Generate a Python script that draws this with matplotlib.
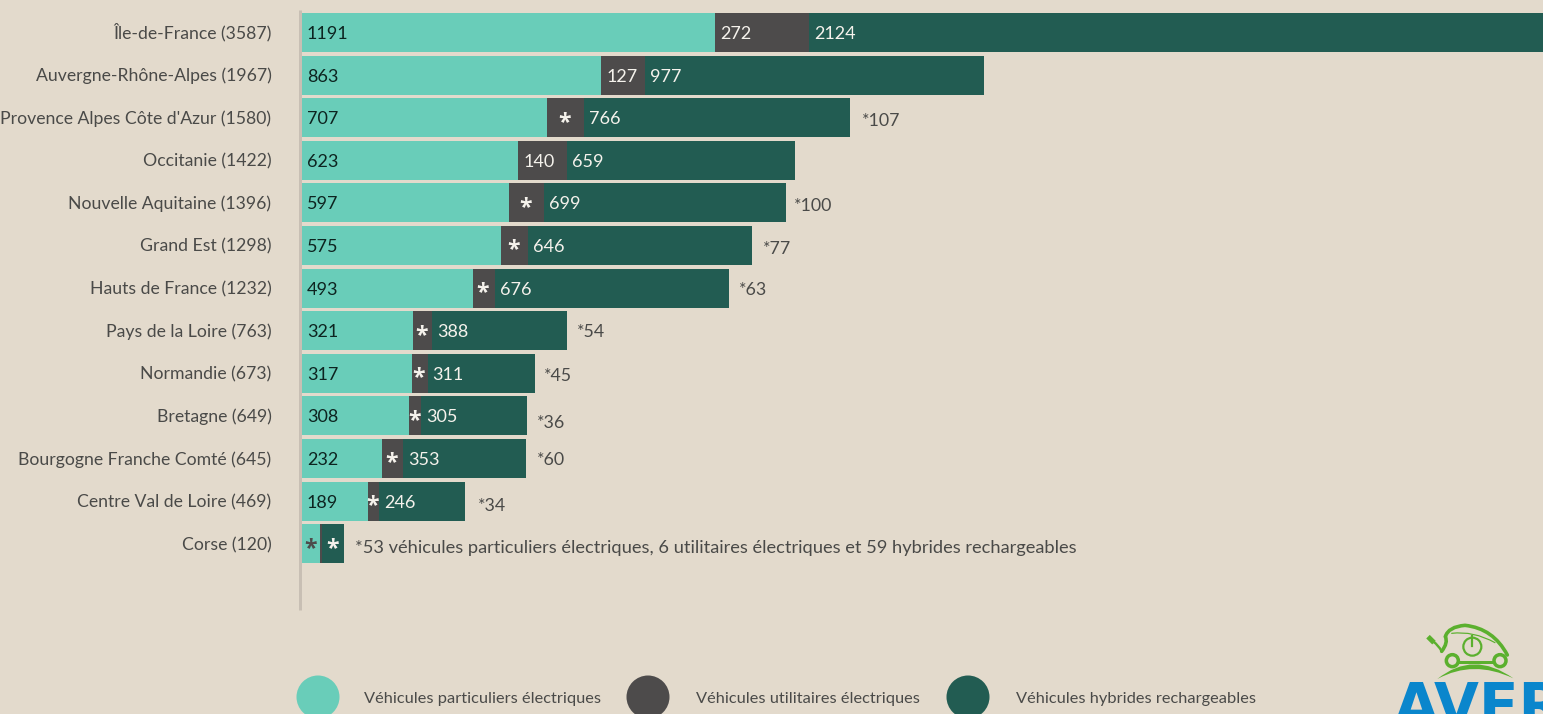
import matplotlib
matplotlib.use("Agg")
import matplotlib.pyplot as plt
from matplotlib.patches import Circle, PathPatch
from matplotlib.path import Path
from matplotlib.transforms import ScaledTranslation

regions = ["Île-de-France (3587)", "Auvergne-Rhône-Alpes (1967)", "Provence Alpes Côte d'Azur (1580)",
           "Occitanie (1422)", "Nouvelle Aquitaine (1396)", "Grand Est (1298)", "Hauts de France (1232)",
           "Pays de la Loire (763)", "Normandie (673)", "Bretagne (649)", "Bourgogne Franche Comté (645)",
           "Centre Val de Loire (469)", "Corse (120)"]
particuliers = [1191, 863, 707, 623, 597, 575, 493, 321, 317, 308, 232, 189, 53]
utilitaires = [272, 127, 107, 140, 100, 77, 63, 54, 45, 36, 60, 34, 6]
hybrides = [2124, 977, 766, 659, 699, 646, 676, 388, 311, 305, 353, 246, 62]
labels_p = ["1191", "863", "707", "623", "597", "575", "493", "321", "317", "308", "232", "189", "*"]
labels_u = ["272", "127", "*", "140", "*", "*", "*", "*", "*", "*", "*", "*", ""]
labels_h = ["2124", "977", "766", "659", "699", "646", "676", "388", "311", "305", "353", "246", "*"]
notes = ["", "", "*107", "", "*100", "*77", "*63", "*54", "*45", "*36", "*60", "*34", ""]
note_offsets = [(0, 0), (0, 0), (12, 2), (0, 0), (8, 2), (11, 2), (10, 0), (10, 0), (9, 1), (10, 6), (11, 0), (13, 3), (0, 0)]
footnote = "*53 véhicules particuliers électriques, 6 utilitaires électriques et 59 hybrides rechargeables"
legend_labels = ["Véhicules particuliers électriques", "Véhicules utilitaires électriques", "Véhicules hybrides rechargeables"]

W, H = 1543, 714
BG, TEAL, GREY, DARK = "#e3dacc", "#69cdb9", "#4d4b4b", "#225c52"
TXT = "#4a4a48"
FONT = "Lato"
PX = 72 / 100
plt.rcParams["font.family"] = [FONT, "DejaVu Sans"]

fig = plt.figure(figsize=(W / 100, H / 100), dpi=100, facecolor=BG)
ax = fig.add_axes([302 / W, 1 - 610 / H, (W - 302) / W, 600 / H])
ax.set_facecolor("none")
ax.set_xlim(0, (W - 302) / 0.3468)
ax.set_ylim(13.556, -0.528)

n = range(len(regions))
left2 = particuliers
left3 = [a + b for a, b in zip(particuliers, utilitaires)]
ax.barh(n, particuliers, height=39 / 42.6, color=TEAL, linewidth=0)
ax.barh(n, utilitaires, left=left2, height=39 / 42.6, color=GREY, linewidth=0)
ax.barh(n, hybrides, left=left3, height=39 / 42.6, color=DARK, linewidth=0)

for s in ["top", "right", "bottom"]:
    ax.spines[s].set_visible(False)
ax.spines["left"].set_color("#c8bfb4")
ax.spines["left"].set_linewidth(3 * PX)
ax.spines["left"].set_capstyle("butt")
ax.spines["left"].set_position(("outward", 2 * PX))
ax.set_xticks([])
ax.set_yticks(list(n))
ax.set_yticklabels(regions, fontsize=17.6 * PX, color=TXT, va="baseline")
ax.tick_params(axis="y", length=0, pad=28.5 * PX)
shift = ScaledTranslation(0, -6.3 / 100, fig.dpi_scale_trans)
for lab in ax.get_yticklabels():
    lab.set_transform(lab.get_transform() + shift)


def seg_label(i, start, width, text, color):
    if text == "*":
        ax.annotate("*", (start + width / 2, i), xytext=(-1 * PX, -5 * PX), textcoords="offset points",
                    ha="center", va="center", color=color, fontsize=23 * PX, fontweight="bold",
                    family="Open Sans")
    elif text:
        ax.annotate(text, (start, i), xytext=(5 * PX, 0), textcoords="offset points",
                    ha="left", va="center_baseline", color=color, fontsize=18 * PX)


for i in n:
    seg_label(i, 0, particuliers[i], labels_p[i], "#0d2420" if labels_p[i] != "*" else GREY)
    seg_label(i, left2[i], utilitaires[i], labels_u[i], "#f5f2ec")
    seg_label(i, left3[i], hybrides[i], labels_h[i], "#f5f2ec")
    if notes[i]:
        dx, dy = note_offsets[i]
        ax.annotate(notes[i], (left3[i] + hybrides[i], i), xytext=(dx * PX, -dy * PX),
                    textcoords="offset points", ha="left", va="center_baseline", color=TXT, fontsize=17.7 * PX)
ax.annotate(footnote, (left3[12] + hybrides[12], 12), xytext=(11 * PX, -3 * PX), textcoords="offset points",
            ha="left", va="center_baseline", color=TXT, fontsize=18.25 * PX)

# overlay in pixel coordinates: legend and logo
ov = fig.add_axes([0, 0, 1, 1])
ov.set_xlim(0, W)
ov.set_ylim(H, 0)
ov.axis("off")
ov.patch.set_alpha(0)
for cx, tx, col, lab in zip([318, 648, 968], [364, 696, 1016], [TEAL, GREY, DARK], legend_labels):
    ov.add_patch(Circle((cx, 697), 21.5, color=col, lw=0))
    ov.text(tx, 697, lab, fontsize=16.4 * PX, color=TXT, ha="left", va="center_baseline")

# logo
G = "#5bb02e"
def z(x, y):
    return 1340 + x / 3, 610 + y / 3
def curve(pts, lw=2.2):
    v = [z(*p) for p in pts]
    ov.add_patch(PathPatch(Path(v, [Path.MOVETO] + [Path.CURVE3] * (len(v) - 1)), fc="none", ec=G, lw=lw * PX, capstyle="round"))
curve([(502, 135), (460, 55), (375, 46), (325, 50), (316, 80), (325, 98), (305, 124)], 3.6)
curve([(335, 70), (400, 62), (465, 98)], 1.2)
curve([(280, 95), (295, 105), (305, 124)], 2.4)
ov.plot(*zip(z(264, 80), z(282, 98)), color=G, lw=5 * PX, solid_capstyle="butt")
ov.add_patch(Circle(z(337, 152), 6, fc="none", ec=G, lw=3.5 * PX))
ov.add_patch(Circle(z(480, 152), 6, fc="none", ec=G, lw=3.5 * PX))
ov.plot(*zip(z(357, 155), z(460, 155)), color=G, lw=3 * PX)
ov.add_patch(Circle(z(397, 110), 9, fc="none", ec=G, lw=2.2 * PX))
ov.plot(*zip(z(397, 78), z(397, 108)), color=G, lw=2.2 * PX)
ov.add_patch(PathPatch(Path([z(292, 207), z(400, 120), z(520, 205), z(400, 148), z(292, 207)],
                            [Path.MOVETO, Path.CURVE3, Path.CURVE3, Path.CURVE3, Path.CURVE3]), fc=G, ec="none"))
ov.text(1394, 680, "AVERE", fontsize=58 * PX, fontweight="bold", color="#0a86cc", ha="left", va="top",
        family="Liberation Sans Narrow", clip_on=True)

fig.savefig("out.png", dpi=100, facecolor=BG)
